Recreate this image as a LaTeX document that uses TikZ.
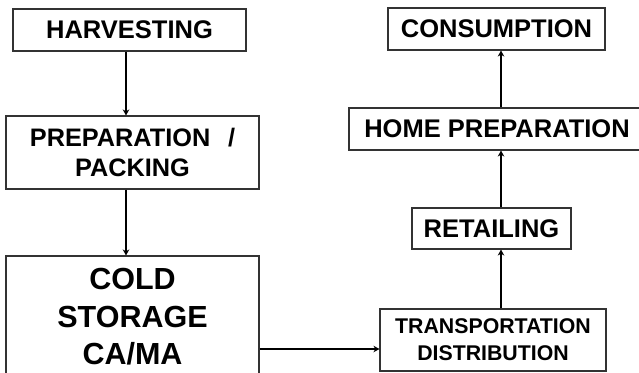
\documentclass[tikz,border=0pt]{standalone}
\usepackage{fontspec}
\setmainfont{Liberation Sans}
\usetikzlibrary{arrows.meta}
\begin{document}
\begin{tikzpicture}[x=1pt,y=-1pt,
  box/.style={draw=black!80, line width=1.1pt, rectangle, inner sep=0pt, align=center},
  big/.style={font=\bfseries\fontsize{25.5}{30.7}\selectfont},
  arr/.style={line width=2.3pt, -{Stealth[length=6pt,width=6.5pt]}}]
\useasboundingbox (0,0) rectangle (639,372);
\clip (0,0) rectangle (639,372);
\node[box, big, minimum width=233pt, minimum height=42pt] (harv) at (129.5,30) {HARVESTING};
\node[box, font=\bfseries\fontsize{25.3}{30.7}\selectfont, minimum width=253pt, minimum height=73pt] (prep) at (132.5,152.5) {PREPARATION\hspace{0.7em}/\\PACKING};
\node[box, font=\bfseries\fontsize{30.5}{37.5}\selectfont, minimum width=253pt, minimum height=122pt] (cold) at (132.5,317) {COLD\\STORAGE\\CA/MA};
\node[box, font=\bfseries\fontsize{21.3}{27}\selectfont, minimum width=226pt, minimum height=62pt] (trans) at (493,340) {TRANSPORTATION\\DISTRIBUTION};
\node[box, big, minimum width=159pt, minimum height=41pt] (retail) at (491.5,228.5) {RETAILING};
\node[box, big, minimum width=296pt, minimum height=42pt] (home) at (497,129) {HOME PREPARATION};
\node[box, big, minimum width=217pt, minimum height=42pt] (cons) at (496.5,29) {CONSUMPTION};
\coordinate (xl) at (126,0);
\coordinate (xr) at (501,0);
\coordinate (yh) at (0,349);
\draw[arr] (harv.south -| xl) -- (prep.north -| xl);
\draw[arr] (prep.south -| xl) -- (cold.north -| xl);
\draw[arr] (cold.east |- yh) -- (trans.west |- yh);
\draw[arr] (trans.north -| xr) -- (retail.south -| xr);
\draw[arr] (retail.north -| xr) -- (home.south -| xr);
\draw[arr] (home.north -| xr) -- (cons.south -| xr);
\end{tikzpicture}
\end{document}
